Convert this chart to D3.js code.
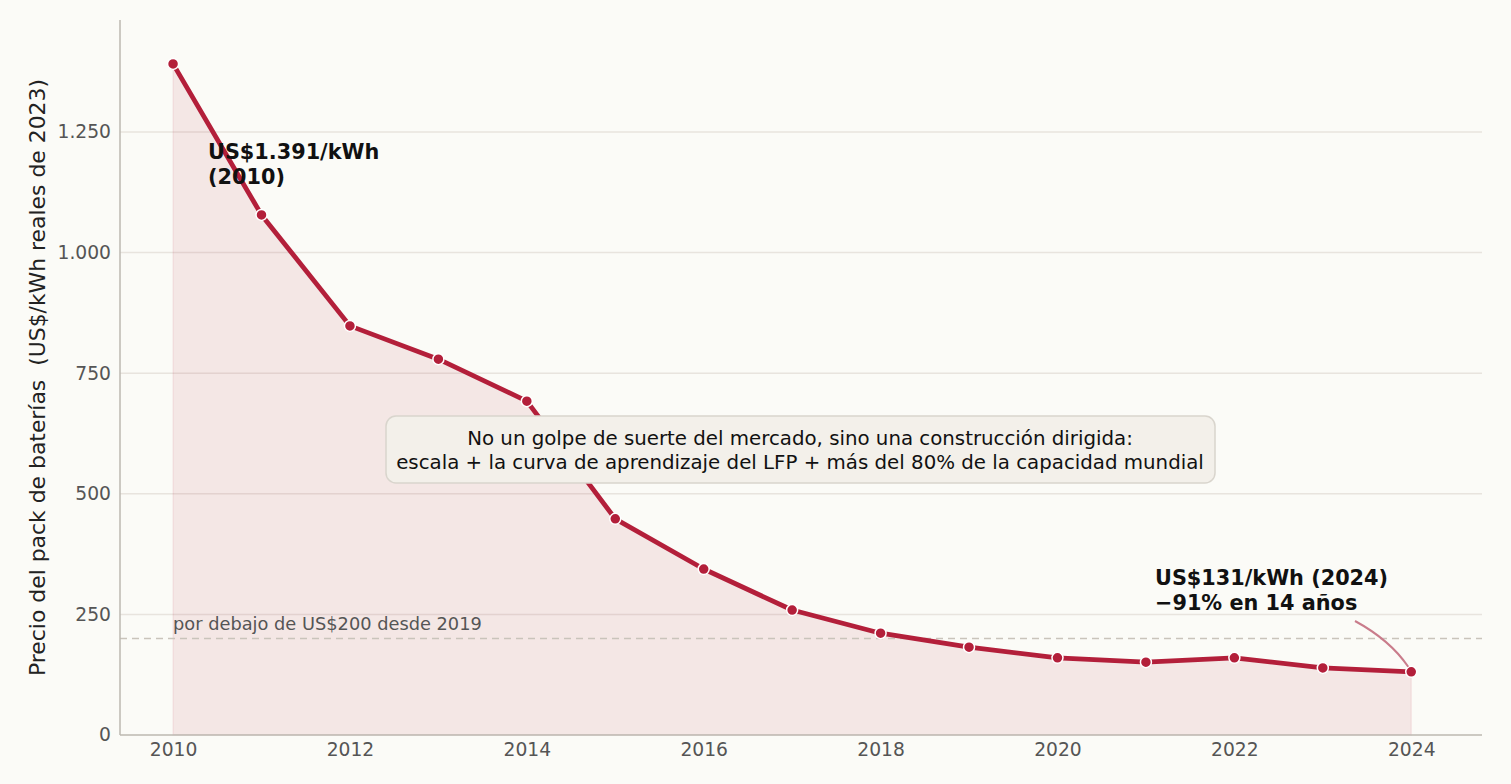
<!DOCTYPE html>
<html>
<head>
<meta charset="utf-8">
<script src="https://cdn.jsdelivr.net/npm/d3@7"></script>
<style>
  body { margin: 0; background: #fbfbf7; }
  text { font-family: "DejaVu Sans", sans-serif; }
</style>
</head>
<body>
<div id="chart"></div>
<script>
// --> DATA
var years = [2010, 2011, 2012, 2013, 2014, 2015, 2016, 2017, 2018, 2019, 2020, 2021, 2022, 2023, 2024];
var prices = [1391, 1078, 848, 779, 692, 448, 344, 259, 211, 182, 160, 151, 160, 139, 131];
var yTicks = [0, 250, 500, 750, 1000, 1250];
var xTicks = [2010, 2012, 2014, 2016, 2018, 2020, 2022, 2024];
var threshold = 200;

var width = 1511,
    height = 784;
var margin = { top: 20, right: 29, bottom: 49, left: 120 };

var svg = d3.select("#chart").append("svg")
    .attr("width", width)
    .attr("height", height);

svg.append("rect")
    .attr("width", width)
    .attr("height", height)
    .attr("fill", "#fbfbf7");

var x = d3.scaleLinear()
    .domain([2009.4, 2024.8])
    .range([margin.left, width - margin.right]);

var y = d3.scaleLinear()
    .domain([0, 1482])
    .range([height - margin.bottom, margin.top]);

var loc = d3.formatLocale({ decimal: ",", thousands: ".", grouping: [3], currency: ["", ""] });
var fmt = loc.format(",d");

// gridlines
svg.append("g")
    .selectAll("line")
    .data(yTicks.filter(function(d) { return d > 0; }))
    .enter().append("line")
    .attr("x1", margin.left)
    .attr("x2", width - margin.right)
    .attr("y1", function(d) { return y(d); })
    .attr("y2", function(d) { return y(d); })
    .attr("stroke", "#e8e4de")
    .attr("stroke-width", 1.5);

// area under line
var area = d3.area()
    .x(function(d, i) { return x(years[i]); })
    .y0(y(0))
    .y1(function(d) { return y(d); });

svg.append("path")
    .datum(prices)
    .attr("d", area)
    .attr("fill", "#b31f3a")
    .attr("fill-opacity", 0.09)
    .attr("stroke", "#b31f3a")
    .attr("stroke-opacity", 0.07)
    .attr("stroke-width", 1.5);

// reference line at 200
svg.append("line")
    .attr("x1", margin.left)
    .attr("x2", width - margin.right)
    .attr("y1", y(threshold))
    .attr("y2", y(threshold))
    .attr("stroke", "#c9c4bb")
    .attr("stroke-width", 1.5)
    .attr("stroke-dasharray", "7,5");

svg.append("text")
    .attr("x", x(2010))
    .attr("y", y(threshold) - 9)
    .attr("font-size", 17.8)
    .attr("fill", "#555")
    .text("por debajo de US$200 desde 2019");

// axes
var xAxis = svg.append("g")
    .attr("transform", "translate(0," + y(0) + ")")
    .call(d3.axisBottom(x).tickValues(xTicks).tickFormat(d3.format("d")).tickSize(0).tickPadding(8));
var yAxis = svg.append("g")
    .attr("transform", "translate(" + margin.left + ",0)")
    .call(d3.axisLeft(y).tickValues(yTicks).tickFormat(fmt).tickSize(0).tickPadding(9));

[xAxis, yAxis].forEach(function(a) {
    a.select(".domain").attr("stroke", "#bdb8b0").attr("stroke-width", 1.5);
    a.selectAll("text")
        .attr("font-family", "DejaVu Sans")
        .attr("font-size", 18.7)
        .attr("fill", "#555");
});
// y spine runs to top of plot
yAxis.select(".domain").attr("d", "M0," + y(0) + "V" + margin.top);
xAxis.select(".domain").attr("d", "M" + margin.left + ",0H" + (width - margin.right));

svg.append("text")
    .attr("transform", "translate(45," + ((margin.top + height - margin.bottom) / 2) + ") rotate(-90)")
    .attr("text-anchor", "middle")
    .attr("font-size", 21.9)
    .attr("fill", "#222")
    .style("white-space", "pre")
    .text("Precio del pack de baterías  (US$/kWh reales de 2023)");

// line
var line = d3.line()
    .x(function(d, i) { return x(years[i]); })
    .y(function(d) { return y(d); });

svg.append("path")
    .datum(prices)
    .attr("d", line)
    .attr("fill", "none")
    .attr("stroke", "#b31f3a")
    .attr("stroke-width", 4.8)
    .attr("stroke-linejoin", "round");

svg.append("g")
    .selectAll("circle")
    .data(prices)
    .enter().append("circle")
    .attr("cx", function(d, i) { return x(years[i]); })
    .attr("cy", function(d) { return y(d); })
    .attr("r", 5.5)
    .attr("fill", "#b31f3a")
    .attr("stroke", "#fff")
    .attr("stroke-width", 1.5);

// annotation: start
var a1 = svg.append("text")
    .attr("x", 208)
    .attr("y", 159)
    .attr("font-size", 20.8)
    .attr("font-weight", "bold")
    .attr("fill", "#111");
a1.append("tspan").attr("x", 208).text("US$1.391/kWh");
a1.append("tspan").attr("x", 208).attr("dy", 24.5).text("(" + years[0] + ")");

// annotation: end
var a2 = svg.append("text")
    .attr("x", 1155)
    .attr("y", 585)
    .attr("font-size", 20.8)
    .attr("font-weight", "bold")
    .attr("fill", "#111");
a2.append("tspan").attr("x", 1155).text("US$131/kWh (2024)");
a2.append("tspan").attr("x", 1155).attr("dy", 24.5).text("\u221291% en 14 años");

var ex = x(2024), ey = y(prices[prices.length - 1]);
svg.append("path")
    .attr("d", "M1355,621 Q1390,640 " + (ex - 3) + "," + (ey - 5))
    .attr("fill", "none")
    .attr("stroke", "#c97c8b")
    .attr("stroke-width", 2);

// box
svg.append("rect")
    .attr("x", 386)
    .attr("y", 416)
    .attr("width", 829)
    .attr("height", 67)
    .attr("rx", 10)
    .attr("fill", "#f3f0ea")
    .attr("stroke", "#d9d5cd")
    .attr("stroke-width", 1.5);

var bt = svg.append("text")
    .attr("text-anchor", "middle")
    .attr("font-size", 19.8)
    .attr("fill", "#111");
bt.append("tspan").attr("x", 800).attr("y", 445)
    .text("No un golpe de suerte del mercado, sino una construcción dirigida:");
bt.append("tspan").attr("x", 800).attr("y", 469)
    .text("escala + la curva de aprendizaje del LFP + más del 80% de la capacidad mundial");
</script>
</body>
</html>
